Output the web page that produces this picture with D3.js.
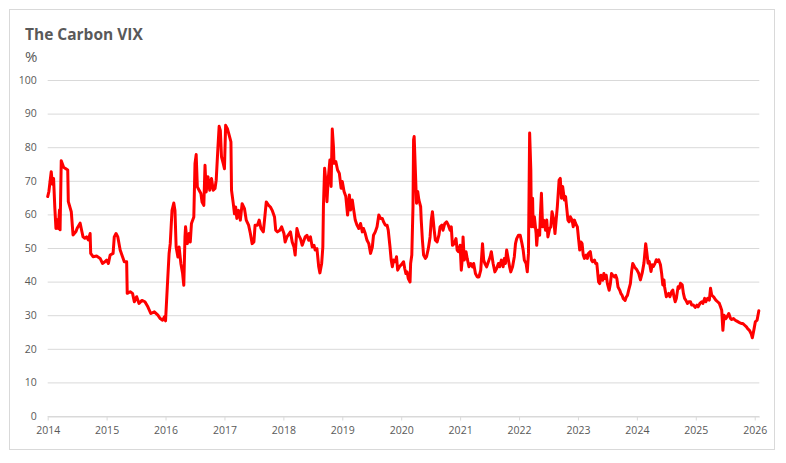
<!DOCTYPE html>
<html>
<head>
<meta charset="utf-8">
<script src="https://cdn.jsdelivr.net/npm/d3@7"></script>
<style>
body { margin: 0; background: #fff; }
svg text { font-family: "Open Sans", sans-serif; }
</style>
</head>
<body>
<div id="chart"></div>
<script>
// decimal years
const dates = [
  2014.00, 2014.02, 2014.06, 2014.08, 2014.10, 2014.12, 2014.14, 2014.16, 2014.18, 2014.20,
  2014.21, 2014.23, 2014.27, 2014.34, 2014.35, 2014.40, 2014.43, 2014.48, 2014.50, 2014.55,
  2014.58, 2014.60, 2014.63, 2014.66, 2014.69, 2014.72, 2014.73, 2014.77, 2014.83, 2014.89,
  2014.93, 2014.97, 2015.00, 2015.03, 2015.06, 2015.11, 2015.13, 2015.16, 2015.19, 2015.23,
  2015.27, 2015.30, 2015.34, 2015.35, 2015.40, 2015.44, 2015.47, 2015.51, 2015.55, 2015.60,
  2015.65, 2015.70, 2015.75, 2015.81, 2015.87, 2015.91, 2015.95, 2015.98, 2016.00, 2016.03,
  2016.06, 2016.08, 2016.11, 2016.14, 2016.16, 2016.18, 2016.21, 2016.23, 2016.26, 2016.29,
  2016.31, 2016.33, 2016.34, 2016.37, 2016.40, 2016.42, 2016.44, 2016.48, 2016.50, 2016.52,
  2016.54, 2016.57, 2016.60, 2016.62, 2016.65, 2016.67, 2016.69, 2016.72, 2016.75, 2016.78,
  2016.81, 2016.84, 2016.86, 2016.89, 2016.91, 2016.93, 2016.95, 2016.98, 2017.00, 2017.02,
  2017.05, 2017.08, 2017.11, 2017.12, 2017.15, 2017.17, 2017.19, 2017.21, 2017.24, 2017.27,
  2017.30, 2017.34, 2017.37, 2017.41, 2017.44, 2017.47, 2017.50, 2017.52, 2017.56, 2017.59,
  2017.62, 2017.66, 2017.68, 2017.71, 2017.75, 2017.78, 2017.81, 2017.85, 2017.87, 2017.90,
  2017.94, 2017.97, 2018.01, 2018.03, 2018.06, 2018.10, 2018.12, 2018.15, 2018.18, 2018.20,
  2018.23, 2018.26, 2018.29, 2018.32, 2018.35, 2018.37, 2018.40, 2018.43, 2018.46, 2018.49,
  2018.52, 2018.54, 2018.57, 2018.60, 2018.62, 2018.65, 2018.67, 2018.68, 2018.70, 2018.73,
  2018.74, 2018.76, 2018.79, 2018.81, 2018.83, 2018.85, 2018.86, 2018.89, 2018.92, 2018.95,
  2018.98, 2019.00, 2019.03, 2019.06, 2019.09, 2019.12, 2019.14, 2019.17, 2019.19, 2019.22,
  2019.25, 2019.28, 2019.31, 2019.34, 2019.36, 2019.39, 2019.42, 2019.45, 2019.48, 2019.51,
  2019.53, 2019.56, 2019.59, 2019.62, 2019.65, 2019.68, 2019.70, 2019.73, 2019.76, 2019.78,
  2019.81, 2019.83, 2019.85, 2019.87, 2019.90, 2019.92, 2019.94, 2019.97, 2020.00, 2020.04,
  2020.06, 2020.08, 2020.10, 2020.12, 2020.15, 2020.16, 2020.18, 2020.20, 2020.21, 2020.22,
  2020.24, 2020.26, 2020.28, 2020.30, 2020.33, 2020.34, 2020.36, 2020.38, 2020.41, 2020.43,
  2020.46, 2020.49, 2020.51, 2020.53, 2020.56, 2020.58, 2020.61, 2020.64, 2020.66, 2020.69,
  2020.71, 2020.74, 2020.77, 2020.80, 2020.83, 2020.85, 2020.87, 2020.90, 2020.93, 2020.95,
  2020.97, 2021.00, 2021.02, 2021.04, 2021.05, 2021.07, 2021.10, 2021.12, 2021.15, 2021.18,
  2021.21, 2021.23, 2021.26, 2021.29, 2021.32, 2021.35, 2021.38, 2021.40, 2021.42, 2021.45,
  2021.48, 2021.51, 2021.53, 2021.56, 2021.59, 2021.62, 2021.65, 2021.67, 2021.70, 2021.73,
  2021.75, 2021.77, 2021.79, 2021.82, 2021.84, 2021.86, 2021.89, 2021.92, 2021.94, 2021.96,
  2021.99, 2022.02, 2022.05, 2022.07, 2022.09, 2022.12, 2022.14, 2022.16, 2022.18, 2022.20,
  2022.21, 2022.23, 2022.24, 2022.26, 2022.29, 2022.30, 2022.32, 2022.35, 2022.36, 2022.38,
  2022.40, 2022.42, 2022.45, 2022.47, 2022.49, 2022.52, 2022.54, 2022.56, 2022.59, 2022.61,
  2022.63, 2022.65, 2022.68, 2022.70, 2022.72, 2022.74, 2022.77, 2022.79, 2022.81, 2022.83,
  2022.85, 2022.87, 2022.90, 2022.92, 2022.94, 2022.96, 2022.99, 2023.01, 2023.03, 2023.05,
  2023.07, 2023.09, 2023.11, 2023.14, 2023.16, 2023.18, 2023.21, 2023.23, 2023.25, 2023.28,
  2023.30, 2023.32, 2023.35, 2023.37, 2023.39, 2023.42, 2023.44, 2023.46, 2023.48, 2023.50,
  2023.53, 2023.55, 2023.57, 2023.59, 2023.62, 2023.64, 2023.66, 2023.68, 2023.71, 2023.73,
  2023.75, 2023.77, 2023.80, 2023.82, 2023.84, 2023.86, 2023.89, 2023.91, 2023.93, 2023.96,
  2023.98, 2024.00, 2024.03, 2024.06, 2024.09, 2024.12, 2024.15, 2024.17, 2024.19, 2024.21,
  2024.24, 2024.26, 2024.28, 2024.31, 2024.33, 2024.35, 2024.37, 2024.40, 2024.42, 2024.44,
  2024.46, 2024.47, 2024.50, 2024.52, 2024.54, 2024.56, 2024.59, 2024.61, 2024.63, 2024.65,
  2024.67, 2024.70, 2024.72, 2024.74, 2024.77, 2024.79, 2024.81, 2024.83, 2024.86, 2024.88,
  2024.91, 2024.93, 2024.96, 2024.99, 2025.02, 2025.04, 2025.07, 2025.10, 2025.12, 2025.15,
  2025.17, 2025.20, 2025.23, 2025.25, 2025.27, 2025.30, 2025.32, 2025.34, 2025.37, 2025.40,
  2025.42, 2025.44, 2025.46, 2025.48, 2025.51, 2025.53, 2025.56, 2025.59, 2025.61, 2025.64,
  2025.67, 2025.69, 2025.72, 2025.75, 2025.78, 2025.80, 2025.83, 2025.86, 2025.88, 2025.91,
  2025.94, 2025.96, 2025.99, 2026.01, 2026.04, 2026.07
];

// Carbon VIX, %
const vix = [
  65.3, 66.8, 72.7, 69.0, 70.7, 62.3, 55.8, 58.4, 55.8, 61.3,
  55.4, 76.0, 74.0, 73.2, 63.8, 60.8, 53.9, 54.9, 55.9, 57.4,
  54.9, 53.3, 52.9, 53.3, 52.4, 54.3, 48.4, 47.4, 47.6, 46.9,
  45.4, 45.9, 46.4, 45.4, 47.9, 48.4, 53.3, 54.3, 53.3, 49.4,
  47.4, 45.9, 45.9, 36.5, 37.0, 36.5, 34.0, 35.5, 33.5, 34.4,
  34.0, 32.5, 30.5, 31.0, 30.0, 29.0, 28.5, 29.5, 28.3, 38.4,
  48.3, 51.3, 61.2, 63.4, 61.2, 50.3, 47.3, 50.3, 45.4, 42.4,
  38.9, 53.3, 56.3, 51.3, 54.3, 51.8, 57.3, 59.2, 75.1, 77.8,
  68.2, 67.2, 66.2, 63.7, 62.7, 74.6, 66.7, 71.2, 67.2, 70.7,
  67.2, 67.7, 70.2, 80.1, 86.2, 85.0, 77.1, 75.1, 73.6, 86.5,
  85.5, 83.6, 81.6, 67.2, 63.2, 60.2, 62.2, 58.8, 61.2, 58.3,
  63.2, 61.7, 58.3, 56.8, 54.3, 51.3, 51.8, 56.8, 56.8, 58.3,
  55.8, 54.8, 58.3, 63.7, 62.7, 62.2, 61.2, 59.2, 55.3, 54.8,
  55.3, 56.3, 54.3, 51.8, 53.3, 54.3, 54.8, 51.8, 50.3, 47.9,
  55.8, 53.8, 52.8, 50.8, 52.3, 53.3, 53.8, 52.3, 53.3, 50.3,
  50.8, 49.4, 49.8, 44.4, 42.6, 45.4, 50.3, 62.3, 73.7, 68.3,
  63.8, 70.2, 76.2, 68.3, 85.4, 80.2, 75.2, 75.7, 73.2, 72.2,
  67.8, 69.8, 66.8, 65.3, 59.8, 65.8, 61.3, 64.3, 61.8, 58.3,
  56.8, 55.8, 57.3, 54.8, 55.8, 54.3, 52.3, 51.3, 48.4, 50.3,
  53.8, 54.8, 56.3, 59.8, 58.8, 58.8, 57.8, 56.8, 56.8, 55.3,
  50.3, 46.4, 44.4, 46.4, 45.9, 47.4, 43.4, 44.4, 45.0, 45.9,
  43.9, 42.4, 42.9, 40.9, 39.9, 45.4, 47.9, 62.3, 82.2, 83.2,
  73.2, 63.3, 66.8, 64.3, 62.3, 58.3, 52.3, 47.9, 46.9, 47.4,
  49.8, 53.3, 58.3, 60.8, 55.3, 52.3, 51.8, 53.8, 56.3, 56.8,
  55.3, 57.3, 57.8, 56.8, 55.3, 56.3, 50.8, 51.3, 52.8, 49.4,
  48.9, 50.8, 43.4, 47.4, 53.3, 46.4, 48.9, 46.9, 44.4, 45.4,
  44.4, 45.4, 42.4, 41.4, 41.4, 43.4, 51.3, 46.4, 45.4, 44.4,
  45.9, 47.4, 48.9, 45.4, 42.9, 43.9, 45.4, 44.4, 46.4, 44.4,
  46.9, 45.4, 49.4, 46.4, 44.4, 42.9, 44.4, 47.4, 51.3, 52.8,
  53.8, 53.8, 51.3, 49.4, 46.4, 45.4, 42.9, 48.4, 84.2, 73.2,
  56.3, 64.8, 56.3, 59.3, 54.3, 50.8, 55.3, 53.8, 58.8, 66.3,
  56.3, 58.3, 55.3, 58.3, 53.3, 55.8, 56.3, 60.8, 58.3, 54.3,
  58.3, 62.3, 70.2, 70.7, 64.8, 68.3, 64.3, 65.3, 61.8, 58.3,
  57.8, 59.3, 58.3, 56.3, 58.3, 57.3, 56.3, 52.8, 49.4, 51.8,
  51.3, 47.9, 46.9, 47.9, 46.9, 48.4, 48.9, 46.4, 45.9, 46.4,
  45.4, 45.4, 39.9, 39.4, 41.9, 40.4, 42.4, 40.9, 41.9, 39.4,
  37.4, 39.4, 42.4, 41.9, 41.4, 41.9, 40.9, 38.4, 37.4, 36.4,
  35.9, 34.9, 34.4, 35.4, 35.9, 37.4, 39.4, 42.9, 45.4, 44.4,
  43.9, 43.5, 42.5, 40.5, 42.5, 45.5, 51.3, 48.5, 45.5, 46.0,
  43.0, 45.0, 44.5, 45.5, 46.5, 46.0, 46.5, 45.0, 42.5, 39.0,
  40.5, 38.5, 35.5, 36.0, 36.5, 35.5, 37.0, 37.5, 35.5, 34.0,
  35.0, 38.5, 38.0, 39.5, 39.0, 36.5, 35.0, 34.5, 33.5, 34.0,
  34.0, 33.0, 33.0, 32.3, 33.0, 32.5, 33.5, 34.0, 33.5, 35.0,
  34.0, 35.0, 34.5, 38.0, 36.0, 35.5, 35.0, 34.5, 34.0, 33.5,
  32.5, 31.5, 25.5, 30.0, 29.0, 29.5, 30.5, 29.0, 28.7, 29.0,
  28.5, 28.3, 28.0, 27.7, 27.5, 27.5, 27.0, 26.5, 26.0, 25.5,
  24.5, 23.3, 26.0, 28.0, 28.5, 31.3
];

const yearTicks = [2014, 2015, 2016, 2017, 2018, 2019, 2020, 2021, 2022, 2023, 2024, 2025, 2026];
const valueTicks = [0, 10, 20, 30, 40, 50, 60, 70, 80, 90, 100];

const width = 786, height = 463;
const plot = { left: 47.7, right: 759.3, top: 80, bottom: 416 };
const grey = "#595959", gridColor = "#d9d9d9";

const svg = d3.select("#chart").append("svg")
    .attr("width", width)
    .attr("height", height);

// chart frame
svg.append("rect")
    .attr("x", 9.5).attr("y", 9.5)
    .attr("width", 765).attr("height", 440)
    .attr("fill", "#fff")
    .attr("stroke", gridColor);

const x = d3.scaleLinear()
    .domain([2014, 2026.078])
    .range([plot.left, plot.right]);

const y = d3.scaleLinear()
    .domain([0, 100])
    .range([plot.bottom, plot.top]);

// horizontal gridlines
svg.append("g")
    .selectAll("line")
    .data(valueTicks)
    .enter().append("line")
    .attr("x1", plot.left)
    .attr("x2", plot.right)
    .attr("y1", d => y(d) + 0.5)
    .attr("y2", d => y(d) + 0.5)
    .attr("stroke", gridColor)
    .attr("stroke-width", 1);

// y axis labels
const yAxis = svg.append("g")
    .attr("transform", `translate(${plot.left},0)`)
    .call(d3.axisLeft(y).tickValues(valueTicks).tickSize(0).tickPadding(11));
yAxis.select(".domain").remove();
yAxis.selectAll("text")
    .attr("fill", grey)
    .style("font-size", "10.5px");

// x axis
const xAxis = svg.append("g")
    .attr("transform", `translate(0,${plot.bottom + 0.5})`)
    .call(d3.axisBottom(x)
        .tickValues(yearTicks)
        .tickFormat(d3.format("d"))
        .tickSize(4)
        .tickSizeOuter(0)
        .tickPadding(6));
xAxis.select(".domain").attr("stroke", gridColor);
xAxis.selectAll(".tick line").attr("stroke", gridColor);
xAxis.selectAll("text")
    .attr("fill", grey)
    .style("font-size", "10.5px");

// the series
const line = d3.line()
    .x((d, i) => x(dates[i]))
    .y(d => y(d));

svg.append("path")
    .datum(vix)
    .attr("d", line)
    .attr("fill", "none")
    .attr("stroke", "#ff0000")
    .attr("stroke-width", 3)
    .attr("stroke-linejoin", "round")
    .attr("stroke-linecap", "round");

// title and unit
svg.append("text")
    .attr("x", 25)
    .attr("y", 39.5)
    .attr("fill", grey)
    .style("font-size", "15.5px")
    .style("font-weight", "bold")
    .text("The Carbon VIX");

svg.append("text")
    .attr("x", 25)
    .attr("y", 61.5)
    .attr("fill", grey)
    .style("font-size", "15px")
    .text("%");
</script>
</body>
</html>
